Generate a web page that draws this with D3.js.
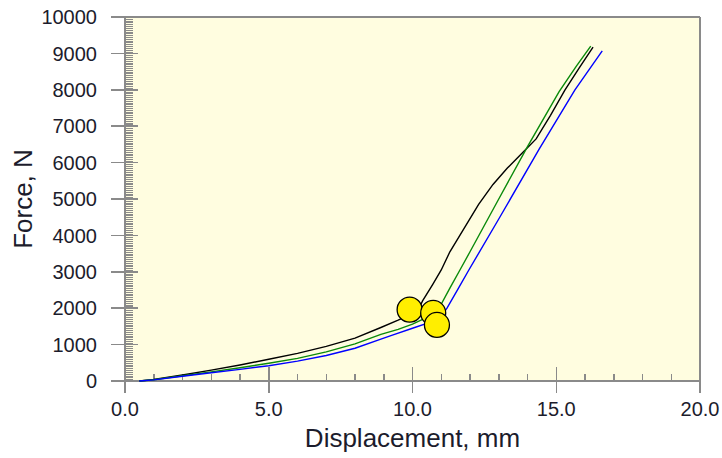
<!DOCTYPE html>
<html lang="en">

<head>
    <meta charset="UTF-8">
    <title>Force vs Displacement</title>
    <style>
        body {
            margin: 0;
            background: #fff;
        }

        .tick-label {
            font-family: "Liberation Sans", Arial, sans-serif;
            font-size: 20px;
            fill: #1c1c2c;
        }

        .axis-title {
            font-family: "Liberation Sans", Arial, sans-serif;
            font-size: 26px;
            fill: #1c1c2c;
        }

        .frame line {
            stroke: #8a8a8a;
            stroke-width: 1.5;
            shape-rendering: crispEdges;
        }
    </style>
</head>

<body>
    <svg id="chart" width="722" height="458"></svg>
    <script src="https://d3js.org/d3.v7.min.js"></script>
    <script>
        // tick labels
        const xTicks = [0, 5, 10, 15, 20];
        const xMinorTicks = [1, 2, 3, 4, 6, 7, 8, 9, 11, 12, 13, 14, 16, 17, 18, 19];
        const yTicks = [0, 1000, 2000, 3000, 4000, 5000, 6000, 7000, 8000, 9000, 10000];

        // displacement (mm) / force (N) for each test
        const blackDisp = [0.5, 1.0, 2.0, 3.0, 4.0, 5.0, 6.0, 7.0, 8.0, 8.9, 9.5, 10.0, 10.2, 10.35, 10.7, 11.0, 11.3, 11.8, 12.3, 12.8, 13.3, 13.8, 14.3, 14.8, 15.3, 15.8, 16.28];
        const blackForce = [0, 40, 165, 300, 440, 596, 760, 950, 1180, 1470, 1670, 1850, 1950, 2200, 2650, 3050, 3550, 4200, 4850, 5400, 5850, 6250, 6650, 7300, 7990, 8600, 9175];

        const greenDisp = [0.5, 1.0, 2.0, 3.0, 4.0, 5.0, 6.0, 7.0, 8.0, 8.9, 9.5, 10.0, 10.5, 10.95, 11.3, 11.65, 12.0, 13.0, 14.0, 15.1, 15.7, 16.2];
        const greenForce = [0, 35, 145, 250, 365, 486, 620, 800, 1020, 1280, 1420, 1560, 1750, 2040, 2550, 3050, 3550, 5000, 6440, 7950, 8650, 9200];

        const blueDisp = [0.5, 1.0, 2.0, 3.0, 4.0, 5.0, 6.0, 7.0, 8.0, 8.9, 9.3, 10.0, 10.6, 11.0, 11.2, 11.6, 11.96, 13.0, 14.4, 15.65, 16.6];
        const blueForce = [0, 30, 130, 225, 320, 420, 545, 700, 900, 1150, 1260, 1450, 1610, 1780, 2000, 2550, 3050, 4450, 6365, 8000, 9070];

        const seriesColors = ["#000000", "#0a8a0a", "#0000ff"];

        // yellow break markers
        const markerDisp = [9.9, 10.72, 10.85];
        const markerForce = [1960, 1870, 1540];

        const series = [
            { color: seriesColors[0], x: blackDisp, y: blackForce },
            { color: seriesColors[1], x: greenDisp, y: greenForce },
            { color: seriesColors[2], x: blueDisp, y: blueForce }
        ];

        const margin = { top: 17, right: 22, bottom: 77, left: 125 };
        const width = 722 - margin.left - margin.right;
        const height = 458 - margin.top - margin.bottom;

        const x = d3.scaleLinear().domain([0, 20]).range([0, width]);
        const y = d3.scaleLinear().domain([0, 10000]).range([height, 0]);

        const svg = d3.select("#chart")
            .append("g")
            .attr("transform", `translate(${margin.left},${margin.top})`);

        svg.append("rect")
            .attr("width", width)
            .attr("height", height)
            .attr("fill", "#fffde0");

        const frame = svg.append("g").attr("class", "frame");

        // minor y ticks, every 50 N, inside the left axis
        const yMinor = d3.range(0, 10001, 50).filter(v => v % 1000 !== 0);
        frame.selectAll(".ym")
            .data(yMinor)
            .enter()
            .append("line")
            .attr("x1", 0)
            .attr("x2", 8)
            .attr("y1", d => Math.round(y(d)) + 0.5)
            .attr("y2", d => Math.round(y(d)) + 0.5)
            .style("stroke-width", 1);

        // major y ticks crossing the axis
        frame.selectAll(".yM")
            .data(yTicks)
            .enter()
            .append("line")
            .attr("x1", -14)
            .attr("x2", d => (d === 0 || d === 10000) ? width : 13)
            .attr("y1", d => y(d))
            .attr("y2", d => y(d));

        frame.selectAll(".xm")
            .data(xMinorTicks)
            .enter()
            .append("line")
            .attr("x1", d => x(d))
            .attr("x2", d => x(d))
            .attr("y1", height)
            .attr("y2", height - 7);

        frame.selectAll(".xM")
            .data(xTicks)
            .enter()
            .append("line")
            .attr("x1", d => x(d))
            .attr("x2", d => x(d))
            .attr("y1", d => (d === 0 || d === 20) ? 0 : height - 14)
            .attr("y2", height + 12);

        svg.selectAll(".ylab")
            .data(yTicks)
            .enter()
            .append("text")
            .attr("class", "tick-label")
            .attr("x", -28)
            .attr("y", d => y(d))
            .attr("dy", "0.36em")
            .attr("text-anchor", "end")
            .text(d => d);

        svg.selectAll(".xlab")
            .data(xTicks)
            .enter()
            .append("text")
            .attr("class", "tick-label")
            .attr("x", d => x(d))
            .attr("y", height + 35)
            .attr("text-anchor", "middle")
            .text(d => d3.format(".1f")(d));

        const line = d3.line()
            .x(d => x(d[0]))
            .y(d => y(d[1]));

        svg.selectAll(".curve")
            .data(series)
            .enter()
            .append("path")
            .attr("class", "curve")
            .attr("fill", "none")
            .attr("stroke", d => d.color)
            .attr("stroke-width", 1.4)
            .attr("d", d => line(d.x.map((v, i) => [v, d.y[i]])));

        svg.selectAll(".marker")
            .data(markerDisp.map((v, i) => [v, markerForce[i]]))
            .enter()
            .append("circle")
            .attr("cx", d => x(d[0]))
            .attr("cy", d => y(d[1]))
            .attr("r", 12.5)
            .attr("fill", "#ffee00")
            .attr("stroke", "#000")
            .attr("stroke-width", 1.3);

        svg.append("text")
            .attr("class", "axis-title")
            .attr("x", width / 2)
            .attr("y", height + 66)
            .attr("text-anchor", "middle")
            .text("Displacement, mm");

        svg.append("text")
            .attr("class", "axis-title")
            .attr("transform", `translate(${-93},${height / 2}) rotate(-90)`)
            .attr("text-anchor", "middle")
            .text("Force, N");
    </script>
</body>

</html>
